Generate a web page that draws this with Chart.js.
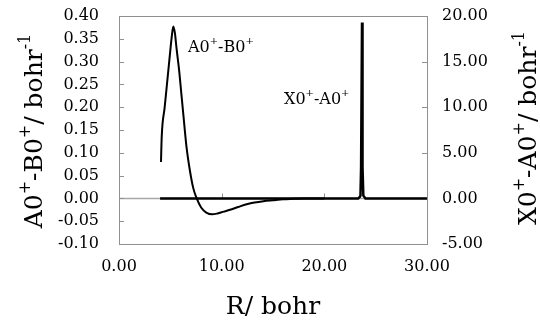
<!DOCTYPE html>
<html>
<head>
<meta charset="utf-8">
<script src="https://cdn.jsdelivr.net/npm/chart.js@4"></script>
<style>
  body { margin: 0; background: #fff; }
  #wrap { width: 540px; height: 324px; }
</style>
</head>
<body>
<div id="wrap"><canvas id="chart" width="540" height="324"></canvas></div>
<script>
  // A0+-B0+ coupling (left axis)
  const rAB = [4.09, 4.16, 4.45, 4.75, 5.0, 5.15, 5.29, 5.45, 5.6, 5.87, 6.05, 6.27, 6.59, 6.92, 7.24, 7.57,
               8.0, 8.5, 9.09, 9.6, 10.2, 10.81, 11.6, 12.44, 13.2, 14.06, 15.0, 16.0, 17.0, 18.0, 20.0];
  const vAB = [0.080, 0.135, 0.200, 0.268, 0.325, 0.357, 0.377, 0.362, 0.330, 0.278, 0.235, 0.183, 0.110, 0.059, 0.022, 0.000,
               -0.020, -0.031, -0.035, -0.033, -0.029, -0.025, -0.019, -0.013, -0.009, -0.006, -0.004, -0.002, -0.001, 0.000, 0.000];

  // X0+-A0+ coupling (right axis)
  const rXA = [4.0, 10.0, 20.0, 23.3, 23.45, 23.52, 23.58, 23.67, 23.72, 23.8, 23.9, 24.0, 26.0, 30.0];
  const vXA = [0.0, 0.0, 0.0, 0.0, 0.15, 0.3, 3.4, 19.3, 3.4, 0.3, 0.15, 0.0, 0.0, 0.0];

  const xTicks = { min: 0, max: 30, step: 10 };
  const yTicks = { min: -0.1, max: 0.4, step: 0.05 };
  const y2Ticks = { min: -5, max: 20, step: 5 };

  const FONT = '"DejaVu Serif"';

  const pts = (xs, ys) => xs.map((x, i) => ({ x: x, y: ys[i] }));

  function drawRich(ctx, parts, size, x, y, align) {
    const big = size + 'px ' + FONT;
    const small = Math.round(size * 0.62) + 'px ' + FONT;
    let w = 0;
    parts.forEach(p => { ctx.font = p.sup ? small : big; w += ctx.measureText(p.t).width; });
    let cx = align === 'left' ? x : x - w / 2;
    ctx.textAlign = 'left';
    ctx.textBaseline = 'alphabetic';
    parts.forEach(p => {
      ctx.font = p.sup ? small : big;
      ctx.fillText(p.t, cx, p.sup ? y - size * 0.5 : y);
      cx += ctx.measureText(p.t).width;
    });
  }

  const titleLeft = [{ t: 'A0' }, { t: '+', sup: true }, { t: '-B0' }, { t: '+', sup: true }, { t: '/ bohr' }, { t: '-1', sup: true }];
  const titleRight = [{ t: 'X0' }, { t: '+', sup: true }, { t: '-A0' }, { t: '+', sup: true }, { t: '/ bohr' }, { t: '-1', sup: true }];
  const labelAB = [{ t: 'A0' }, { t: '+', sup: true }, { t: '-B0' }, { t: '+', sup: true }];
  const labelXA = [{ t: 'X0' }, { t: '+', sup: true }, { t: '-A0' }, { t: '+', sup: true }];

  const framePlugin = {
    id: 'frame',
    beforeDatasetsDraw(chart) {
      const { ctx, chartArea: a, scales } = chart;
      const y0 = Math.round(scales.y.getPixelForValue(0)) + 0.5;
      ctx.save();
      ctx.strokeStyle = '#a8a8a8';
      ctx.lineWidth = 1.5;
      ctx.beginPath();
      ctx.moveTo(a.left, y0);
      ctx.lineTo(a.right, y0);
      ctx.stroke();

      ctx.strokeStyle = '#909090';
      ctx.lineWidth = 1;
      ctx.strokeRect(Math.round(a.left) + 0.5, Math.round(a.top) + 0.5,
                     Math.round(a.right - a.left), Math.round(a.bottom - a.top));

      ctx.beginPath();
      scales.y.ticks.forEach(t => {
        const p = Math.round(scales.y.getPixelForValue(t.value)) + 0.5;
        ctx.moveTo(a.left, p); ctx.lineTo(a.left + 5, p);
      });
      scales.y2.ticks.forEach(t => {
        const p = Math.round(scales.y2.getPixelForValue(t.value)) + 0.5;
        ctx.moveTo(a.right - 5, p); ctx.lineTo(a.right, p);
      });
      scales.x.ticks.forEach(t => {
        const p = Math.round(scales.x.getPixelForValue(t.value)) + 0.5;
        ctx.moveTo(p, y0 - 5); ctx.lineTo(p, y0);
      });
      ctx.stroke();
      ctx.restore();
    },
    afterDraw(chart) {
      const { ctx, chartArea: a, scales } = chart;
      const midY = (a.top + a.bottom) / 2 + 1;
      ctx.save();
      ctx.fillStyle = '#000';

      ctx.save();
      ctx.translate(42, midY);
      ctx.rotate(-Math.PI / 2);
      drawRich(ctx, titleLeft, 25, 0, 0, 'center');
      ctx.restore();

      ctx.save();
      ctx.translate(536, midY - 3);
      ctx.rotate(-Math.PI / 2);
      drawRich(ctx, titleRight, 25, 0, 0, 'center');
      ctx.restore();

      drawRich(ctx, labelAB, 16, scales.x.getPixelForValue(6.72), scales.y.getPixelForValue(0.322), 'left');
      drawRich(ctx, labelXA, 16, scales.x.getPixelForValue(16.07), scales.y2.getPixelForValue(10.35), 'left');
      ctx.restore();
    }
  };

  const tickFont = { family: FONT, size: 16 };

  function fixV(w) {
    return s => { s.width = w; s.paddingTop = 0; s.paddingBottom = 0; };
  }

  new Chart(document.getElementById('chart'), {
    type: 'scatter',
    data: {
      datasets: [
        {
          label: 'A0+-B0+',
          data: pts(rAB, vAB),
          yAxisID: 'y',
          showLine: true,
          borderColor: '#000',
          borderWidth: 2,
          pointRadius: 0,
          cubicInterpolationMode: 'monotone'
        },
        {
          label: 'X0+-A0+',
          data: pts(rXA, vXA),
          yAxisID: 'y2',
          showLine: true,
          borderColor: '#000',
          borderWidth: 2.5,
          pointRadius: 0,
          tension: 0
        }
      ]
    },
    options: {
      responsive: false,
      animation: false,
      devicePixelRatio: 1,
      layout: { padding: { top: 16, left: 0, right: 0, bottom: 0 } },
      plugins: { legend: { display: false }, tooltip: { enabled: false } },
      scales: {
        x: {
          type: 'linear',
          min: xTicks.min, max: xTicks.max,
          grid: { display: false, drawTicks: false },
          border: { display: false },
          ticks: { stepSize: xTicks.step, color: '#000', font: tickFont, padding: 13,
                   autoSkip: false, maxRotation: 0, callback: v => v.toFixed(2) },
          title: { display: true, text: 'R/ bohr', color: '#000',
                   font: { family: FONT, size: 25 }, padding: { top: 0, bottom: 2 } },
          afterFit: s => { s.height = 80; s.paddingLeft = 0; s.paddingRight = 0; }
        },
        y: {
          position: 'left',
          min: yTicks.min, max: yTicks.max,
          grid: { display: false, drawTicks: false },
          border: { display: false },
          ticks: { stepSize: yTicks.step, color: '#000', font: tickFont, padding: 20,
                   autoSkip: false, callback: v => v.toFixed(2) },
          afterFit: fixV(119)
        },
        y2: {
          position: 'right',
          min: y2Ticks.min, max: y2Ticks.max,
          grid: { display: false, drawTicks: false },
          border: { display: false },
          ticks: { stepSize: y2Ticks.step, color: '#000', font: tickFont, padding: 15,
                   autoSkip: false, callback: v => v.toFixed(2) },
          afterFit: fixV(113)
        }
      }
    },
    plugins: [framePlugin]
  });
</script>
</body>
</html>
